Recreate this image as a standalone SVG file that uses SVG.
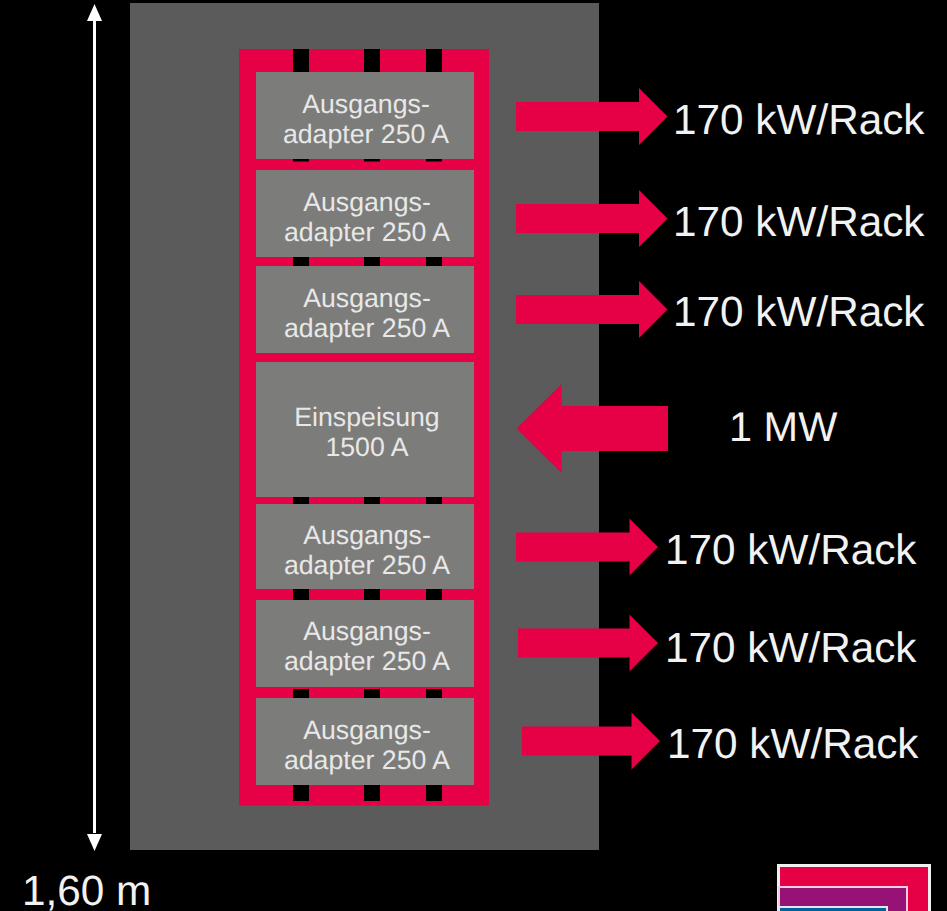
<svg xmlns="http://www.w3.org/2000/svg" width="947" height="911" viewBox="0 0 947 911">
<defs>
<style>
.box{fill:#7c7c7a}
.tab{fill:#000}
.arrow{fill:#e60045}
text{font-family:"Liberation Sans",Arial,sans-serif;fill:#f0f0f0;text-rendering:geometricPrecision}
.l{font-size:26.7px;text-anchor:middle;fill:#e8e8e8}
.b{font-size:42.3px;fill:#f2f2f2}
</style>
</defs>
<rect width="947" height="911" fill="#000"/>
<rect id="cabinet" x="130" y="3" width="469" height="847" fill="#5b5b5b"/>
<rect id="frame" x="239" y="49" width="250" height="756.500" fill="#e60045"/>
<g id="tabs">
<rect class="tab" x="293" y="49" width="16" height="23"/><rect class="tab" x="364" y="49" width="16" height="23"/><rect class="tab" x="426" y="49" width="16" height="23"/>
<rect class="tab" x="293" y="159" width="16" height="2.500"/><rect class="tab" x="364" y="159" width="16" height="2.500"/><rect class="tab" x="426" y="159" width="16" height="2.500"/>
<rect class="tab" x="293" y="257" width="16" height="9"/><rect class="tab" x="364" y="257" width="16" height="9"/><rect class="tab" x="426" y="257" width="16" height="9"/>
<rect class="tab" x="293" y="497" width="16" height="7"/><rect class="tab" x="364" y="497" width="16" height="7"/><rect class="tab" x="426" y="497" width="16" height="7"/>
<rect class="tab" x="293" y="589" width="16" height="11"/><rect class="tab" x="364" y="589" width="16" height="11"/><rect class="tab" x="426" y="589" width="16" height="11"/>
<rect class="tab" x="293" y="689" width="16" height="9"/><rect class="tab" x="364" y="689" width="16" height="9"/><rect class="tab" x="426" y="689" width="16" height="9"/>
<rect class="tab" x="293" y="785" width="16" height="16"/><rect class="tab" x="364" y="785" width="16" height="16"/><rect class="tab" x="426" y="785" width="16" height="16"/>
</g>
<g id="box1"><rect class="box" x="256" y="72" width="218" height="87"/><text class="l" x="366" y="113">Ausgangs-</text><text class="l" x="366" y="143">adapter 250 A</text></g>
<g id="box2"><rect class="box" x="256" y="170" width="218" height="87"/><text class="l" x="367" y="211">Ausgangs-</text><text class="l" x="367" y="241">adapter 250 A</text></g>
<g id="box3"><rect class="box" x="256" y="266" width="218" height="87"/><text class="l" x="367" y="307">Ausgangs-</text><text class="l" x="367" y="337">adapter 250 A</text></g>
<g id="feed"><rect class="box" x="256" y="362" width="218" height="135"/><text class="l" x="367" y="426">Einspeisung</text><text class="l" x="367" y="456">1500 A</text></g>
<g id="box5"><rect class="box" x="256" y="504" width="218" height="85"/><text class="l" x="367" y="544">Ausgangs-</text><text class="l" x="367" y="574">adapter 250 A</text></g>
<g id="box6"><rect class="box" x="256" y="600" width="218" height="87"/><text class="l" x="367" y="640">Ausgangs-</text><text class="l" x="367" y="670">adapter 250 A</text></g>
<g id="box7"><rect class="box" x="256" y="698" width="218" height="87"/><text class="l" x="367" y="739">Ausgangs-</text><text class="l" x="367" y="769">adapter 250 A</text></g>
<g id="connectors">
<polygon class="arrow" points="516,102 639,102 639,88 667.500,116.500 639,145 639,131 516,131"/>
<polygon class="arrow" points="516,204 639,204 639,190 667.500,218.500 639,247 639,233 516,233"/>
<polygon class="arrow" points="516,295 639,295 639,281 667.500,309.500 639,338 639,324 516,324"/>
<polygon class="arrow" points="668,406 561.500,406 561.500,384 516.500,428.500 561.500,473 561.500,451 668,451"/>
<polygon class="arrow" points="516,532.500 629.500,532.500 629.500,518.500 658,547 629.500,575.500 629.500,561.500 516,561.500"/>
<polygon class="arrow" points="518,628.500 629.500,628.500 629.500,614.500 658,643 629.500,671.500 629.500,657.500 518,657.500"/>
<polygon class="arrow" points="522,726.500 631.500,726.500 631.500,712.500 660,741 631.500,769.500 631.500,755.500 522,755.500"/>
<g id="dimension"><rect x="93" y="20" width="3" height="813" fill="#fff"/><polygon points="94.500,4 102,21 87,21" fill="#fff"/><polygon points="94.500,851 102,834 87,834" fill="#fff"/></g>
</g>
<text class="b" x="673" y="133.500">170 kW/Rack</text>
<text class="b" x="673" y="235.500">170 kW/Rack</text>
<text class="b" x="673" y="326">170 kW/Rack</text>
<text class="b" x="729" y="441" style="font-size:41.5px">1 MW</text>
<text class="b" x="665" y="563.500">170 kW/Rack</text>
<text class="b" x="665" y="661.500">170 kW/Rack</text>
<text class="b" x="667" y="757.500">170 kW/Rack</text>
<text class="b" x="22" y="904.500">1,60 m</text>
<g id="logo">
<rect x="778.500" y="865.500" width="151" height="60" fill="#e60045" stroke="#f0f0f0" stroke-width="3"/>
<rect x="779" y="887" width="128" height="40" fill="#961276" stroke="#f0d0e0" stroke-width="2"/>
<rect x="779" y="907" width="108" height="20" fill="#00629b" stroke="#e0e8f0" stroke-width="2"/>
</g>
</svg>
